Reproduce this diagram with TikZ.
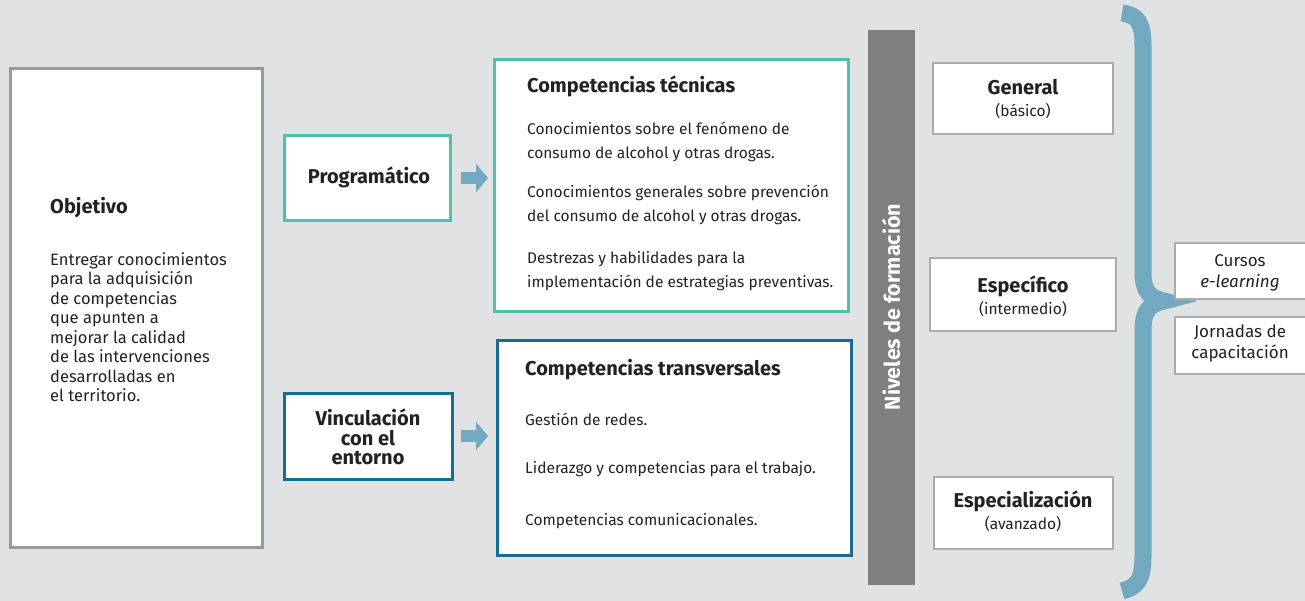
\documentclass[tikz,border=0pt]{standalone}
\usepackage{fontspec}
\setmainfont{Fira Sans}
\usetikzlibrary{arrows.meta}
\definecolor{bg}{HTML}{E1E2E4}
\definecolor{teal}{HTML}{4DC0B0}
\definecolor{dblue}{HTML}{176D91}
\definecolor{gborder}{HTML}{999999}
\definecolor{lborder}{HTML}{ABABAB}
\definecolor{bar}{HTML}{7F7E80}
\definecolor{brace}{HTML}{72A9C0}
\definecolor{txt}{HTML}{222222}
\tikzset{
  box/.style={draw, fill=white, line width=3pt, rectangle, inner sep=0pt},
  body/.style={text=txt, font=\fontsize{15.5}{24}\selectfont, align=left, inner sep=0pt},
  ttl/.style={text=txt, font=\fontsize{20}{22}\selectfont\bfseries, inner sep=0pt},
  lvl/.style={text=txt, font=\fontsize{15.5}{22}\selectfont, align=center, inner sep=0pt},
  blockarrow/.style={draw=brace, line width=12pt, -{Triangle[width=28pt,length=12pt]}},
}
\begin{document}
\begin{tikzpicture}[x=1pt,y=-1pt]
\fill[bg] (0,0) rectangle (1305,601);
\useasboundingbox (0,0) rectangle (1305,601);

% Objetivo
\node[box, draw=gborder, minimum width=252pt, minimum height=478pt] (obj) at (136,308) {};
\node[ttl, anchor=west] (objt) at (50,208) {Objetivo};
\node[body, anchor=north west, font=\fontsize{16.5}{19.5}\selectfont] (objb) at (50,252) {Entregar conocimientos\\para la adquisición\\de competencias\\que apunten a\\mejorar la calidad\\de las intervenciones\\desarrolladas en\\el territorio.};

% Programatico / Vinculacion
\node[box, draw=teal, minimum width=166pt, minimum height=85pt] (prog) at (367,178.5) {};
\node[ttl] (progt) at (369,177) {Programático};
\node[box, draw=dblue, minimum width=168pt, minimum height=86pt] (vinc) at (368,436) {};
\node[ttl, align=center, font=\fontsize{20}{19.5}\selectfont\bfseries] (vinct) at (368,437) {Vinculación\\con el\\entorno};

% Competencias tecnicas
\node[box, draw=teal, minimum width=354pt, minimum height=251pt] (tec) at (671,185.5) {};
\node[ttl, anchor=west] (tect) at (527,86) {Competencias técnicas};
\node[body, anchor=west] (tec1) at (527,142) {Conocimientos sobre el fenómeno de\\consumo de alcohol y otras drogas.};
\node[body, anchor=west] (tec2) at (527,205) {Conocimientos generales sobre prevención\\del consumo de alcohol y otras drogas.};
\node[body, anchor=west] (tec3) at (527,271.5) {Destrezas y habilidades para la\\implementación de estrategias preventivas.};

% Competencias transversales
\node[box, draw=dblue, minimum width=354pt, minimum height=215pt] (tra) at (674,447.5) {};
\node[ttl, anchor=west] (trat) at (525,370) {Competencias transversales};
\node[body, anchor=west] (tra1) at (525,419) {Gestión de redes.};
\node[body, anchor=west] (tra2) at (525,469) {Liderazgo y competencias para el trabajo.};
\node[body, anchor=west] (tra3) at (525,521) {Competencias comunicacionales.};

% arrows
\coordinate (a1s) at (461,178);
\coordinate (a1e) at (488,178);
\coordinate (a2s) at (461,436);
\coordinate (a2e) at (488,436);
\draw[blockarrow] (a1s) -- (a1e);
\draw[blockarrow] (a2s) -- (a2e);

% gray bar
\node[fill=bar, minimum width=47pt, minimum height=555pt, inner sep=0pt] (bar) at (891.5,307.5) {};
\node[rotate=90, text=white, font=\fontsize{21.5}{22}\selectfont\bfseries, inner sep=0pt] (bart) at (891,307) {Niveles de formación};

% levels
\node[box, draw=lborder, line width=2.5pt, minimum width=180pt, minimum height=71pt] (gen) at (1023,98.5) {};
\node[lvl] (gent) at (1023,99) {\textbf{\fontsize{20}{22}\selectfont General}\\(básico)};
\node[box, draw=lborder, line width=2.5pt, minimum width=186pt, minimum height=73pt] (esp) at (1023,294.5) {};
\node[lvl] (espt) at (1023,296) {\textbf{\fontsize{20}{22}\selectfont Específico}\\(intermedio)};
\node[box, draw=lborder, line width=2.5pt, minimum width=179pt, minimum height=72pt] (spc) at (1023.5,513) {};
\node[lvl] (spct) at (1023,511) {\textbf{\fontsize{20}{22}\selectfont Especialización}\\(avanzado)};

% brace
\draw[brace, line width=17pt, line cap=butt]
  (1122,13) .. controls (1137,15) and (1143,22) .. (1143,46)
  -- (1143,272) .. controls (1143,292) and (1150,298) .. (1164,301)
  .. controls (1150,304) and (1143,310) .. (1143,330)
  -- (1143,556) .. controls (1143,580) and (1137,587) .. (1122,591);

% right boxes
\node[box, draw=lborder, line width=2pt, minimum width=132pt, minimum height=56pt] (cur) at (1241,271) {};
\node[lvl, font=\fontsize{17}{21}\selectfont] (curt) at (1240,273) {Cursos\\\textit{e-learning}};
\node[box, draw=lborder, line width=2pt, minimum width=132pt, minimum height=57pt] (jor) at (1241,345.5) {};
\node[lvl, font=\fontsize{17}{21}\selectfont] (jort) at (1240,343.5) {Jornadas de\\capacitación};
\end{tikzpicture}
\end{document}
